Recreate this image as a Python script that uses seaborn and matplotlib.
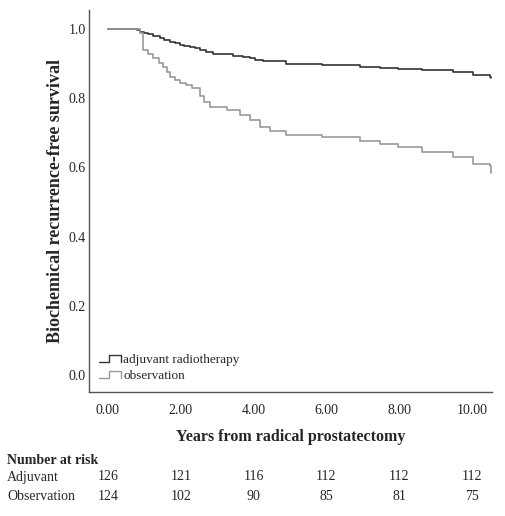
import numpy as np
import pandas as pd
import seaborn as sns
import matplotlib.pyplot as plt
from matplotlib.legend_handler import HandlerBase
from matplotlib.lines import Line2D
import matplotlib.transforms as mtransforms

# survival curves (years, survival)
adj_t = [0.00, 0.65, 0.80, 0.88, 1.00, 1.10, 1.25, 1.43, 1.55, 1.70, 1.85, 1.98, 2.10, 2.25, 2.40, 2.53, 2.70, 2.88, 3.43, 3.70, 3.90, 4.05, 4.26, 4.90, 5.87, 6.92, 7.47, 7.97, 8.63, 9.48, 10.03, 10.50, 10.52]
adj_s = [1.000, 1.000, 0.996, 0.992, 0.988, 0.984, 0.979, 0.973, 0.968, 0.963, 0.958, 0.954, 0.950, 0.947, 0.944, 0.940, 0.934, 0.928, 0.922, 0.918, 0.915, 0.911, 0.908, 0.899, 0.896, 0.891, 0.887, 0.884, 0.880, 0.874, 0.867, 0.862, 0.857]
obs_t = [0.00, 0.70, 0.88, 0.97, 1.10, 1.24, 1.40, 1.52, 1.62, 1.71, 1.85, 1.98, 2.15, 2.30, 2.53, 2.65, 2.80, 3.26, 3.63, 3.90, 4.18, 4.45, 4.90, 5.87, 6.92, 7.47, 7.97, 8.63, 9.48, 10.03, 10.50, 10.52]
obs_s = [1.000, 1.000, 0.988, 0.940, 0.928, 0.916, 0.900, 0.890, 0.876, 0.862, 0.852, 0.844, 0.837, 0.830, 0.805, 0.790, 0.775, 0.766, 0.752, 0.737, 0.718, 0.706, 0.694, 0.688, 0.677, 0.668, 0.660, 0.645, 0.630, 0.610, 0.605, 0.584]

groups = ["adjuvant radiotherapy", "observation"]
colors = ["#333333", "#9a9a9a"]

risk_times = [0, 2, 4, 6, 8, 10]
risk_adjuvant = [126, 121, 116, 112, 112, 112]
risk_observation = [124, 102, 90, 85, 81, 75]

df = pd.concat([
    pd.DataFrame({"t": adj_t, "s": adj_s, "group": groups[0]}),
    pd.DataFrame({"t": obs_t, "s": obs_s, "group": groups[1]}),
])

sns.set_style("white")
plt.rcParams["font.family"] = ["Liberation Serif", "DejaVu Serif"]

fig = plt.figure(figsize=(5.06, 5.16), dpi=100)
ax = fig.add_axes([0.176, 0.240, 0.796, 0.741])

sns.lineplot(data=df, x="t", y="s", hue="group", palette=colors, estimator=None,
             drawstyle="steps-post", linewidth=1.2, ax=ax, legend=False)

ax.set_xlim(-0.52, 10.55)
ax.set_ylim(-0.049, 1.055)
ax.set_xticks(risk_times)
ax.set_xticklabels([f"{v:.2f}" for v in risk_times])
ax.set_yticks([0, 0.2, 0.4, 0.6, 0.8, 1.0])
ax.set_yticklabels(["0.0", "0.2", "0.4", "0.6", "0.8", "1.0"])
ax.tick_params(axis="y", length=0, pad=2.5, labelsize=10)
ax.tick_params(axis="x", length=0, pad=8.5, labelsize=10)
for side in ["top", "right"]:
    ax.spines[side].set_visible(False)
for side in ["left", "bottom"]:
    ax.spines[side].set_color("#555555")
    ax.spines[side].set_linewidth(1.0)

ax.set_ylabel("Biochemical recurrence-free survival", fontsize=13, fontweight="bold", va="center")
ax.yaxis.set_label_coords(-0.084, 0.5)
ax.set_xlabel("Years from radical prostatectomy", fontsize=11.5, fontweight="bold", va="center")
ax.xaxis.set_label_coords(0.5, -0.118)


class StepHandler(HandlerBase):
    def create_artists(self, legend, orig_handle, xdescent, ydescent, width, height, fontsize, trans):
        xs = [0, width * 0.45, width * 0.45, width, width]
        ys = [0.15 * height, 0.15 * height, 0.9 * height, 0.9 * height, 0.15 * height]
        line = Line2D(xs, ys, color=orig_handle.get_color(), linewidth=1.0, transform=trans)
        return [line]


handles = [Line2D([], [], color=c) for c in colors]
ax.legend(handles, groups, loc="lower left", bbox_to_anchor=(0.0, 0.0), frameon=False,
          handler_map={Line2D: StepHandler()}, handlelength=1.7, handletextpad=0.15,
          labelspacing=0.3, fontsize=9.5, borderaxespad=0.35)

# number at risk table
trans = mtransforms.blended_transform_factory(ax.transData, fig.transFigure)
fig.text(7 / 506, 1 - 460 / 516, "Number at risk", fontsize=10, fontweight="bold", va="center")
fig.text(7 / 506, 1 - 477 / 516, "Adjuvant", fontsize=10, va="center")
fig.text(7 / 506, 1 - 497 / 516, "Observation", fontsize=10, va="center")
for t, a, o in zip(risk_times, risk_adjuvant, risk_observation):
    ax.text(t, 1 - 477 / 516, str(a), transform=trans, fontsize=10, ha="center", va="center")
    ax.text(t, 1 - 497 / 516, str(o), transform=trans, fontsize=10, ha="center", va="center")

fig.savefig("out.png", dpi=100)
